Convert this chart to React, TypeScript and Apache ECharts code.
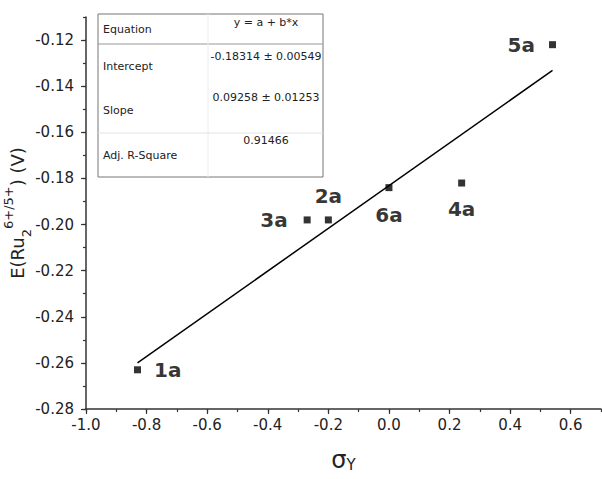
import React, { useEffect, useRef } from "react";
import * as echarts from "echarts";

const xData = [-0.83, -0.2, -0.27, 0.24, 0.54, 0.0];
const yData = [-0.263, -0.198, -0.198, -0.182, -0.122, -0.184];
const pointLabels = ["1a", "2a", "3a", "4a", "5a", "6a"];
const labelPositions = ["right", "top", "left", "bottom", "left", "bottom"];
const intercept = -0.18314;
const slope = 0.09258;
const xMajor = [-1.0, -0.8, -0.6, -0.4, -0.2, 0.0, 0.2, 0.4, 0.6];
const yMajor = [-0.28, -0.26, -0.24, -0.22, -0.2, -0.18, -0.16, -0.14, -0.12];
const tableLabels = ["Equation", "Intercept", "Slope", "Adj. R-Square"];
const tableValues = ["y = a + b*x", "-0.18314 \u00b1 0.00549", "0.09258 \u00b1 0.01253", "0.91466"];

const FONT = "DejaVu Sans";

export default function App() {
  const ref = useRef<HTMLDivElement>(null);
  useEffect(() => {
    if (!ref.current) return;
    const chart = echarts.init(ref.current, null, { renderer: "svg" });
    const xmin = Math.min(...xData);
    const xmax = Math.max(...xData);
    const fitLine = [
      [xmin, intercept + slope * xmin],
      [xmax, intercept + slope * xmax],
    ];
    const axisColor = "#333";
    const labelRowsY = [29, 66, 110, 155];
    const valueRowsY = [22, 56, 97, 140];
    const labelDistances = [13, 10, 16, 12, 14, 14];
    const graphics: any[] = [
      { type: "rect", shape: { x: 98, y: 14, width: 225, height: 163 }, style: { fill: "#fff", stroke: "#777", lineWidth: 1 }, z: 100 },
      { type: "line", shape: { x1: 98, y1: 44, x2: 323, y2: 44 }, style: { stroke: "#999", lineWidth: 1 }, z: 101 },
      { type: "line", shape: { x1: 98, y1: 133, x2: 323, y2: 133 }, style: { stroke: "#e2e2e2", lineWidth: 1 }, z: 101 },
      { type: "line", shape: { x1: 208, y1: 14, x2: 208, y2: 177 }, style: { stroke: "#ececec", lineWidth: 1 }, z: 101 },
    ];
    tableLabels.forEach((t, i) => {
      graphics.push({ type: "text", x: 103, y: labelRowsY[i], style: { text: t, font: `11px "${FONT}"`, fill: "#222", textVerticalAlign: "middle" }, z: 102 });
    });
    tableValues.forEach((t, i) => {
      graphics.push({ type: "text", x: 266, y: valueRowsY[i], style: { text: t, font: `11px "${FONT}"`, fill: "#222", textAlign: "center", textVerticalAlign: "middle" }, z: 102 });
    });

    const option: any = {
      animation: false,
      backgroundColor: "#fff",
      grid: { left: 86, right: 1, top: 17, bottom: 70, containLabel: false, outerBoundsMode: "none" },
      xAxis: [
        {
          type: "value", min: -1, max: 0.7, interval: 0.1,
          axisLine: { show: true, onZero: false, lineStyle: { color: axisColor, width: 1.5 } },
          axisTick: { show: true, length: 3, lineStyle: { color: axisColor, width: 1.2 } },
          axisLabel: { show: false }, splitLine: { show: false },
          name: "{s|\u03c3}{y|Y}", nameLocation: "middle", nameGap: 37,
          nameTextStyle: { rich: { s: { fontSize: 24, fontFamily: FONT, color: "#222", verticalAlign: "bottom", lineHeight: 26 }, y: { fontSize: 15, fontFamily: FONT, color: "#222", verticalAlign: "bottom", lineHeight: 22 } } },
        },
        {
          type: "value", min: -1, max: 0.7, position: "bottom",
          axisLine: { show: false, onZero: false },
          axisTick: { show: true, length: 5, customValues: xMajor, lineStyle: { color: axisColor, width: 1.2 } },
          axisLabel: { customValues: xMajor, formatter: (v: number) => v.toFixed(1), fontSize: 15, fontFamily: FONT, color: "#222", margin: 8 },
          splitLine: { show: false },
        },
      ],
      yAxis: [
        {
          type: "value", min: -0.28, max: -0.11, interval: 0.01,
          axisLine: { show: true, onZero: false, lineStyle: { color: axisColor, width: 1.5 } },
          axisTick: { show: true, length: 3, lineStyle: { color: axisColor, width: 1.2 } },
          axisLabel: { show: false }, splitLine: { show: false },
          name: "{n|E(Ru}{sub|2}{sup|6+/5+}{n|) (V)}", nameLocation: "middle", nameGap: 55, nameRotate: 90,
          nameTextStyle: {
            rich: {
              n: { fontSize: 18, fontFamily: FONT, color: "#222", lineHeight: 28, verticalAlign: "middle" },
              sub: { fontSize: 13, fontFamily: FONT, color: "#222", lineHeight: 28, verticalAlign: "bottom", padding: [0, 0, -2, 0] },
              sup: { fontSize: 13, fontFamily: FONT, color: "#222", lineHeight: 28, verticalAlign: "top", padding: [-1, 0, 0, 0] },
            },
          },
        },
        {
          type: "value", min: -0.28, max: -0.11, position: "left",
          axisLine: { show: false, onZero: false },
          axisTick: { show: true, length: 5, customValues: yMajor, lineStyle: { color: axisColor, width: 1.2 } },
          axisLabel: { customValues: yMajor, formatter: (v: number) => v.toFixed(2), fontSize: 15, fontFamily: FONT, color: "#222", margin: 12 },
          splitLine: { show: false },
        },
      ],
      series: [
        {
          type: "line", data: fitLine, xAxisIndex: 0, yAxisIndex: 0, symbol: "none",
          lineStyle: { color: "#000", width: 1.5 }, z: 2,
        },
        {
          type: "scatter", xAxisIndex: 0, yAxisIndex: 0, symbol: "rect", symbolSize: 7,
          itemStyle: { color: "#000" }, z: 3,
          data: xData.map((x, i) => ({
            value: [x, yData[i]],
            label: { show: true, formatter: pointLabels[i], position: labelPositions[i], distance: labelDistances[i], color: "#000", fontSize: 20, fontWeight: "bold", fontFamily: FONT },
          })),
          label: { fontSize: 20, fontWeight: "bold", fontFamily: FONT, color: "#000" },
        },
      ],
      graphic: graphics,
    };
    chart.setOption(option);
    return () => chart.dispose();
  }, []);
  return <div ref={ref} style={{ position: "fixed", left: 0, top: 0, width: 602, height: 479 }} />;
}
